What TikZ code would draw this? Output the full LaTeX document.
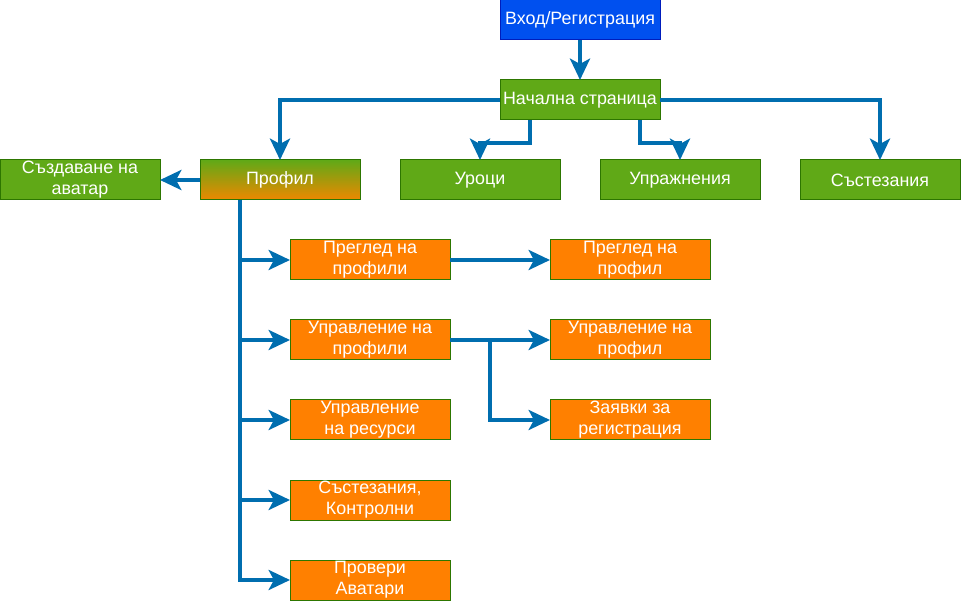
\documentclass[tikz,border=0pt]{standalone}
\usepackage{fontspec}
\setmainfont{Liberation Sans}
\usetikzlibrary{arrows.meta,calc}
\definecolor{connc}{HTML}{006EAF}
\definecolor{bluef}{HTML}{0050EF}
\definecolor{blued}{HTML}{001DBC}
\definecolor{greenf}{HTML}{60A917}
\definecolor{greend}{HTML}{2D7600}
\definecolor{orangef}{HTML}{FF8000}
\definecolor{orangeg}{HTML}{EE8800}
\tikzset{
  box/.style={rectangle, minimum width=120pt, minimum height=30pt, inner sep=0pt, outer sep=0pt,
    line width=0.75pt, text=white, align=center, font=\fontsize{13.4}{15.6}\selectfont},
  bluebox/.style={box, fill=bluef, draw=blued},
  greenbox/.style={box, fill=greenf, draw=greend},
  orangebox/.style={box, fill=orangef, draw=greend},
  gradbox/.style={box, top color=greenf, bottom color=orangeg, draw=greend},
  conn/.style={draw=connc, line width=3pt, -{Stealth[length=16pt,width=15pt,inset=4pt]}},
}
\begin{document}
\begin{tikzpicture}[x=0.75pt,y=-0.75pt]
\useasboundingbox (0,0) rectangle (961,602);
\node[bluebox] (login) at (580,20) {Вход/Регистрация};
\node[greenbox] (home) at (580,100) {Начална страница};
\node[gradbox] (profil) at (280,180) {Профил};
\node[greenbox] (avatar) at (80,180) {Създаване на\\аватар};
\node[greenbox] (lessons) at (480,180) {Уроци};
\node[greenbox] (exercises) at (680,180) {Упражнения};
\node[greenbox] (comp) at (880,180) {Състезания};
\node[orangebox] (o1) at (370,260) {Преглед на\\профили};
\node[orangebox] (o2) at (370,340) {Управление на\\профили};
\node[orangebox] (o3) at (370,420) {Управление\\на ресурси};
\node[orangebox] (o4) at (370,500) {Състезания,\\Контролни};
\node[orangebox] (o5) at (370,580) {Провери\\Аватари};
\node[orangebox] (r1) at (630,260) {Преглед на\\профил};
\node[orangebox] (r2) at (630,340) {Управление на\\профил};
\node[orangebox] (r3) at (630,420) {Заявки за\\регистрация};

\draw[conn] (login) -- (home);
\draw[conn] (home.west) -| (profil.north);
\draw[conn] (home.east) -| (comp.north);
\draw[conn] ($(home.south)+(-50,0)$) -- ++(0,23) -| (lessons.north);
\draw[conn] ($(home.south)+(60,0)$) -- ++(0,23) -| (exercises.north);
\draw[conn] (profil.west) -- (avatar.east);
\foreach \n in {o1,o2,o3,o4,o5}{
  \draw[conn] ($(profil.south)+(-40,0)$) |- (\n.west);
}
\draw[conn] (o1.east) -- (r1.west);
\draw[conn] (o2.east) -- (r2.west);
\draw[conn] ($(o2.east)+(40,0)$) |- (r3.west);
\end{tikzpicture}
\end{document}
